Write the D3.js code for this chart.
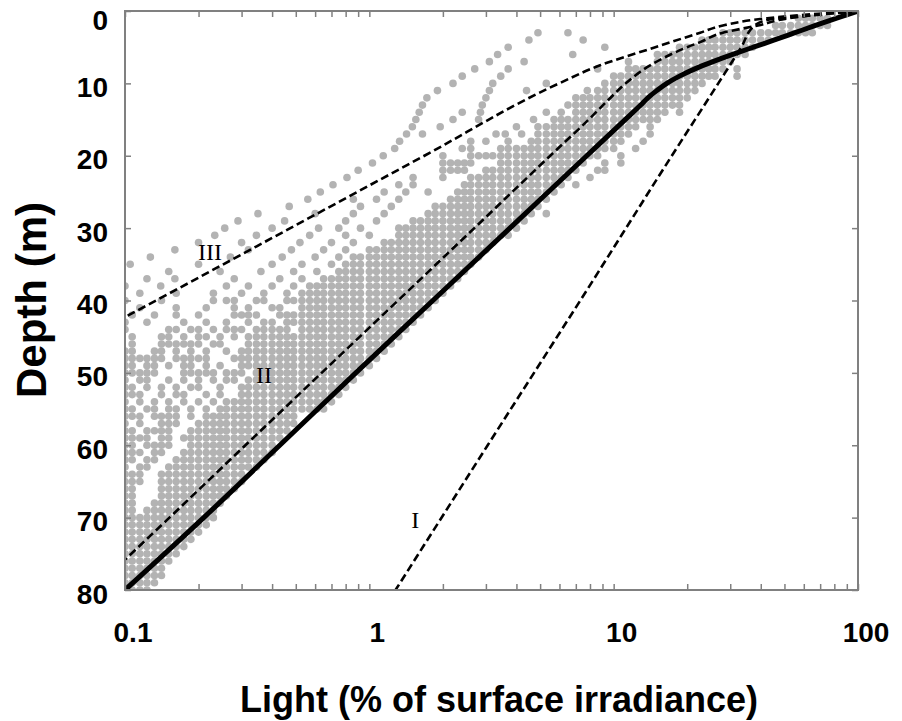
<!DOCTYPE html>
<html lang="en">
<head>
<meta charset="UTF-8">
<title>Light vs depth</title>
<script src="https://d3js.org/d3.v7.min.js"></script>
<style>
  body { margin: 0; background: #fff; }
  .frame { fill: none; stroke: #808080; stroke-width: 2px; }
  .tick line { stroke: #808080; stroke-width: 1.5px; }
  .dot { fill: #b3b3b3; }
  .model { fill: none; stroke: #000; stroke-width: 2.6px; stroke-dasharray: 8 4; }
  .fit { fill: none; stroke: #000; stroke-width: 5px; }
  .ticklab { font-family: "Liberation Sans", Arial, sans-serif; font-weight: bold; font-size: 28px; fill: #000; }
  .title { font-family: "Liberation Sans", Arial, sans-serif; font-weight: bold; font-size: 36px; fill: #000; }
  .roman { font-family: "Liberation Serif", "Times New Roman", serif; font-size: 24px; fill: #000; }
</style>
</head>
<body>
<div id="chart"></div>
<script>
// axis ticks
const xTicks = [0.1, 1, 10, 100];
const xTickLabels = ["0.1", "1", "10", "100"];
const yTicks = [0, 10, 20, 30, 40, 50, 60, 70, 80];

// mean light profile (solid)
const fitDepth = [0, 1, 2, 3, 4, 5, 6, 7, 8, 9, 10, 11, 12, 13, 15, 20, 30, 40, 50, 60, 70, 80];
const fitLight = [100, 81.8, 67, 55.2, 45.5, 37.3, 30.7, 25.5, 21.5, 18.6, 16.5, 15.0, 13.8, 12.9, 11.15, 7.76, 3.76, 1.82, 0.88, 0.43, 0.21, 0.1];

// dashed profiles I, II, III
const depthI = [0, 0.6, 1.2, 2, 5, 10, 20, 40, 60, 80];
const lightI = [100, 65, 43, 37.8, 33.3, 26.8, 17.3, 7.3, 3.05, 1.28];
const depthII = [0, 0.5, 1, 2, 3, 4.3, 5, 7.5, 10, 12.3, 15, 20, 30, 40, 50, 60, 70, 75.8];
const lightII = [100, 68, 52, 39, 28, 22.6, 20, 14.1, 11.2, 9.5, 7.9, 5.5, 2.69, 1.31, 0.638, 0.311, 0.152, 0.1];
const depthIII = [0, 0.5, 1, 2, 3, 5, 7.5, 10, 20, 30, 40, 42.3];
const lightIII = [100, 62, 42.5, 28, 22.6, 14.8, 8.8, 5.98, 1.68, 0.475, 0.134, 0.1];

const profileNames = ["I", "II", "III"];
const nameLight = [1.54, 0.371, 0.223];
const nameDepth = [71.4, 51.4, 34.4];

// measured light (% surface), one row per metre of depth
const dotRows = [
  [1, [57, 61, 65, 70, 75]],
  [2, [46, 49, 53, 57, 61, 65, 70, 75]],
  [3, [4.9, 6.5, 28, 30, 32, 34.5, 37, 40, 43, 46, 49, 53, 57, 61, 65]],
  [4, [4.5, 7.5, 23, 24.5, 26, 28, 30, 32, 34.5, 37, 40, 43]],
  [5, [3.7, 9.2, 18.6, 20, 21.5, 23, 24.5, 26, 28, 30, 32, 34.5, 37]],
  [6, [3.35, 6.8, 15.1, 16.2, 17.4, 18.6, 20, 21.5, 23, 24.5, 26, 28, 30, 32, 34.5]],
  [7, [3.1, 4.3, 11.5, 15.1, 16.2, 17.4, 18.6, 20, 21.5, 23, 24.5, 26, 28, 30]],
  [8, [2.7, 3.7, 8.6, 11.5, 12.3, 13.2, 14.1, 15.1, 16.2, 17.4, 18.6, 20, 21.5, 23, 24.5, 26, 28, 32]],
  [9, [2.4, 3.45, 10, 10.7, 11.5, 12.3, 13.2, 14.1, 15.1, 16.2, 17.4, 18.6, 20, 21.5, 23, 24.5, 26, 32]],
  [10, [2.2, 3.2, 5.3, 9.2, 10, 10.7, 11.5, 12.3, 13.2, 14.1, 15.1, 16.2, 17.4, 18.6, 20, 21.5, 23]],
  [11, [1.9, 3.1, 4.4, 7.8, 8.6, 9.2, 10, 10.7, 11.5, 12.3, 13.2, 14.1, 15.1, 16.2, 17.4, 18.6, 20, 21.5]],
  [12, [1.72, 3.0, 7, 7.5, 8, 8.6, 9.2, 10, 10.7, 11.5, 12.3, 13.2, 14.1, 15.1, 16.2, 17.4, 18.6, 20]],
  [13, [1.65, 2.9, 6.5, 7, 7.5, 8, 8.6, 9.2, 10, 10.7, 11.5, 12.3, 13.2, 14.1, 15.1, 16.2, 17.4, 18.6]],
  [14, [1.6, 2.4, 2.85, 5.3, 6.1, 7, 7.5, 8, 8.6, 9.2, 10, 10.7, 11.5, 12.3, 13.2, 14.1, 15.1, 16.2, 18.6]],
  [15, [1.55, 2.2, 2.8, 4.7, 5.7, 6.1, 6.5, 7, 7.5, 8, 8.6, 9.2, 10, 10.7, 11.5, 12.3, 13.2, 14.1, 15.1]],
  [16, [1.5, 1.95, 4.0, 4.9, 5.3, 5.7, 6.1, 6.5, 7, 7.5, 8, 8.6, 9.2, 10, 10.7, 11.5, 12.3, 14.1]],
  [17, [1.42, 1.65, 3.3, 3.6, 4.2, 4.9, 5.3, 5.7, 6.1, 6.5, 7, 7.5, 8, 8.6, 9.2, 10, 10.7, 11.5, 14.1]],
  [18, [1.33, 2.6, 3.0, 3.7, 4.6, 4.9, 5.3, 5.7, 6.1, 6.5, 7, 7.5, 8, 8.6, 9.2, 10, 10.7, 13.2]],
  [19, [1.27, 2.4, 2.6, 3.45, 3.7, 4, 4.3, 4.6, 4.9, 5.3, 5.7, 6.1, 6.5, 7, 7.5, 8, 8.6, 9.2, 10, 12.3]],
  [20, [1.14, 2.0, 2.6, 2.8, 3, 3.2, 3.45, 3.7, 4, 4.3, 4.6, 4.9, 5.3, 5.7, 6.1, 6.5, 7, 7.5, 8, 8.6, 10.7]],
  [21, [1.03, 2, 2.15, 2.3, 2.45, 2.6, 3.45, 3.7, 4, 4.3, 4.6, 4.9, 5.3, 5.7, 6.1, 6.5, 7, 7.5, 9.2, 10.7]],
  [22, [0.9, 2, 2.15, 2.3, 2.45, 3, 3.2, 3.45, 3.7, 4, 4.3, 4.6, 4.9, 5.3, 5.7, 6.1, 6.5, 7, 8.6, 9.2]],
  [23, [0.81, 1.51, 2.0, 2.6, 2.8, 3, 3.2, 3.45, 3.7, 4, 4.3, 4.6, 4.9, 5.3, 5.7, 6.1, 6.5, 8.0]],
  [24, [0.71, 1.32, 1.51, 2.45, 2.6, 2.8, 3, 3.2, 3.45, 3.7, 4, 4.3, 4.6, 4.9, 5.3, 5.7, 6.1, 7.0]],
  [25, [0.63, 1.15, 1.41, 1.74, 2.3, 2.45, 2.6, 2.8, 3, 3.2, 3.45, 3.7, 4, 4.3, 4.6, 4.9, 5.3, 5.7]],
  [26, [0.56, 0.86, 1.07, 1.32, 2.15, 2.3, 2.45, 2.6, 2.8, 3, 3.2, 3.45, 3.7, 4, 4.3, 4.6, 4.9, 5.3]],
  [27, [0.47, 0.92, 1.23, 1.86, 2, 2.15, 2.3, 2.45, 2.6, 2.8, 3, 3.2, 3.45, 3.7, 4, 4.3, 4.6, 4.9]],
  [28, [0.35, 0.6, 0.86, 1.15, 1.74, 1.86, 2, 2.15, 2.3, 2.45, 2.6, 2.8, 3, 3.2, 3.45, 3.7, 4, 4.3, 4.6, 5.3]],
  [29, [0.29, 0.45, 0.8, 1.07, 1.51, 1.62, 1.74, 1.86, 2, 2.15, 2.3, 2.45, 2.6, 2.8, 3, 3.2, 3.45, 3.7, 4, 4.3]],
  [30, [0.256, 0.4, 0.62, 0.75, 0.92, 1.32, 1.41, 1.51, 1.62, 1.74, 1.86, 2, 2.15, 2.3, 2.45, 2.6, 2.8, 3, 3.2, 3.45, 3.7, 4]],
  [31, [0.233, 0.345, 0.57, 0.8, 1.0, 1.32, 1.41, 1.51, 1.62, 1.74, 1.86, 2, 2.15, 2.3, 2.45, 2.6, 2.8, 3, 3.2, 3.45, 3.7]],
  [32, [0.2, 0.3, 0.52, 0.7, 0.86, 1.15, 1.23, 1.32, 1.41, 1.51, 1.62, 1.74, 1.86, 2, 2.15, 2.3, 2.45, 2.6, 2.8, 3, 3.2]],
  [33, [0.16, 0.32, 0.48, 0.65, 0.8, 1, 1.07, 1.15, 1.23, 1.32, 1.41, 1.51, 1.62, 1.74, 1.86, 2, 2.15, 2.3, 2.45, 2.6, 2.8, 3]],
  [34, [0.127, 0.27, 0.44, 0.6, 0.75, 0.86, 0.92, 1, 1.07, 1.15, 1.23, 1.32, 1.41, 1.51, 1.62, 1.74, 1.86, 2, 2.15, 2.3, 2.45, 2.6, 2.8]],
  [35, [0.105, 0.2, 0.4, 0.53, 0.7, 0.8, 0.86, 0.92, 1, 1.07, 1.15, 1.23, 1.32, 1.41, 1.51, 1.62, 1.74, 1.86, 2, 2.15, 2.3, 2.45, 2.6]],
  [36, [0.151, 0.245, 0.36, 0.49, 0.61, 0.75, 0.8, 0.86, 0.92, 1, 1.07, 1.15, 1.23, 1.32, 1.41, 1.51, 1.62, 1.74, 1.86, 2, 2.15, 2.3, 2.45]],
  [37, [0.123, 0.16, 0.28, 0.43, 0.53, 0.65, 0.7, 0.75, 0.8, 0.86, 0.92, 1, 1.07, 1.15, 1.23, 1.32, 1.41, 1.51, 1.62, 1.74, 1.86, 2, 2.15, 2.3]],
  [38, [0.1, 0.14, 0.26, 0.32, 0.4, 0.49, 0.57, 0.61, 0.65, 0.7, 0.75, 0.8, 0.86, 0.92, 1, 1.07, 1.15, 1.23, 1.32, 1.41, 1.51, 1.62, 1.74, 1.86, 2, 2.15]],
  [39, [0.115, 0.162, 0.23, 0.3, 0.37, 0.46, 0.53, 0.57, 0.61, 0.65, 0.7, 0.75, 0.8, 0.86, 0.92, 1, 1.07, 1.15, 1.23, 1.32, 1.41, 1.51, 1.62, 1.74, 1.86, 2]],
  [40, [0.1, 0.141, 0.23, 0.26, 0.28, 0.345, 0.37, 0.46, 0.49, 0.53, 0.57, 0.61, 0.65, 0.7, 0.75, 0.8, 0.86, 0.92, 1, 1.07, 1.15, 1.23, 1.32, 1.41, 1.51, 1.62, 1.74, 1.86]],
  [41, [0.115, 0.162, 0.215, 0.28, 0.32, 0.4, 0.43, 0.53, 0.57, 0.61, 0.65, 0.7, 0.75, 0.8, 0.86, 0.92, 1, 1.07, 1.15, 1.23, 1.32, 1.41, 1.51, 1.62, 1.74]],
  [42, [0.107, 0.132, 0.162, 0.2, 0.28, 0.3, 0.32, 0.345, 0.43, 0.46, 0.49, 0.53, 0.57, 0.61, 0.65, 0.7, 0.75, 0.8, 0.86, 0.92, 1, 1.07, 1.15, 1.23, 1.32, 1.41, 1.51, 1.62]],
  [43, [0.1, 0.123, 0.174, 0.215, 0.26, 0.32, 0.37, 0.4, 0.46, 0.49, 0.53, 0.57, 0.61, 0.65, 0.7, 0.75, 0.8, 0.86, 0.92, 1, 1.07, 1.15, 1.23, 1.32, 1.41, 1.51]],
  [44, [0.1, 0.151, 0.162, 0.186, 0.2, 0.23, 0.26, 0.28, 0.3, 0.345, 0.37, 0.4, 0.43, 0.46, 0.53, 0.57, 0.61, 0.65, 0.7, 0.75, 0.8, 0.86, 0.92, 1, 1.07, 1.15, 1.23, 1.32, 1.41]],
  [45, [0.107, 0.141, 0.151, 0.174, 0.2, 0.215, 0.245, 0.28, 0.32, 0.345, 0.37, 0.4, 0.43, 0.46, 0.49, 0.53, 0.57, 0.61, 0.65, 0.7, 0.75, 0.8, 0.86, 0.92, 1, 1.07, 1.15, 1.23, 1.32]],
  [46, [0.107, 0.141, 0.151, 0.162, 0.174, 0.186, 0.2, 0.23, 0.245, 0.32, 0.345, 0.37, 0.4, 0.43, 0.46, 0.49, 0.53, 0.57, 0.61, 0.65, 0.7, 0.75, 0.8, 0.86, 0.92, 1, 1.07, 1.15, 1.23]],
  [47, [0.1, 0.107, 0.132, 0.141, 0.162, 0.186, 0.215, 0.26, 0.3, 0.32, 0.345, 0.37, 0.4, 0.43, 0.46, 0.49, 0.53, 0.57, 0.61, 0.65, 0.7, 0.75, 0.8, 0.86, 0.92, 1, 1.07, 1.15]],
  [48, [0.1, 0.107, 0.115, 0.123, 0.132, 0.141, 0.162, 0.174, 0.186, 0.2, 0.215, 0.28, 0.3, 0.32, 0.345, 0.37, 0.4, 0.43, 0.46, 0.49, 0.53, 0.57, 0.61, 0.65, 0.7, 0.75, 0.8, 0.86, 0.92, 1, 1.07]],
  [49, [0.1, 0.107, 0.123, 0.132, 0.151, 0.174, 0.186, 0.215, 0.245, 0.3, 0.32, 0.345, 0.37, 0.4, 0.43, 0.46, 0.49, 0.53, 0.57, 0.61, 0.65, 0.7, 0.75, 0.8, 0.86, 0.92, 1]],
  [50, [0.1, 0.107, 0.115, 0.123, 0.132, 0.174, 0.186, 0.2, 0.215, 0.23, 0.26, 0.28, 0.3, 0.345, 0.37, 0.4, 0.43, 0.46, 0.49, 0.53, 0.57, 0.61, 0.65, 0.7, 0.75, 0.8, 0.86, 0.92]],
  [51, [0.1, 0.115, 0.123, 0.151, 0.174, 0.2, 0.23, 0.26, 0.28, 0.32, 0.345, 0.37, 0.4, 0.43, 0.46, 0.49, 0.53, 0.57, 0.61, 0.65, 0.7, 0.75, 0.8, 0.86]],
  [52, [0.1, 0.107, 0.123, 0.141, 0.162, 0.186, 0.2, 0.245, 0.3, 0.32, 0.345, 0.37, 0.4, 0.43, 0.46, 0.49, 0.53, 0.57, 0.61, 0.65, 0.7, 0.75, 0.8]],
  [53, [0.1, 0.107, 0.115, 0.141, 0.162, 0.174, 0.215, 0.245, 0.3, 0.32, 0.345, 0.37, 0.4, 0.43, 0.46, 0.49, 0.53, 0.57, 0.61, 0.65, 0.7, 0.75]],
  [54, [0.1, 0.115, 0.132, 0.151, 0.174, 0.2, 0.23, 0.26, 0.28, 0.3, 0.32, 0.345, 0.37, 0.4, 0.43, 0.46, 0.49, 0.53, 0.57, 0.61, 0.65, 0.7]],
  [55, [0.1, 0.107, 0.123, 0.132, 0.151, 0.162, 0.186, 0.215, 0.245, 0.26, 0.28, 0.3, 0.32, 0.345, 0.37, 0.4, 0.43, 0.46, 0.49, 0.53, 0.57, 0.61, 0.65]],
  [56, [0.1, 0.107, 0.115, 0.132, 0.141, 0.151, 0.162, 0.186, 0.215, 0.23, 0.245, 0.26, 0.28, 0.3, 0.32, 0.345, 0.37, 0.4, 0.43, 0.46, 0.49]],
  [57, [0.1, 0.115, 0.141, 0.151, 0.162, 0.2, 0.215, 0.23, 0.245, 0.26, 0.28, 0.3, 0.32, 0.345, 0.37, 0.4, 0.43, 0.46, 0.49]],
  [58, [0.1, 0.107, 0.123, 0.132, 0.141, 0.151, 0.186, 0.2, 0.215, 0.23, 0.245, 0.26, 0.28, 0.3, 0.32, 0.345, 0.37, 0.4, 0.43, 0.46]],
  [59, [0.1, 0.107, 0.115, 0.123, 0.141, 0.151, 0.174, 0.186, 0.2, 0.215, 0.23, 0.245, 0.26, 0.28, 0.3, 0.32, 0.345, 0.37, 0.4, 0.43]],
  [60, [0.1, 0.107, 0.123, 0.132, 0.141, 0.151, 0.186, 0.2, 0.215, 0.23, 0.245, 0.26, 0.28, 0.3, 0.32, 0.345, 0.37, 0.4]],
  [61, [0.1, 0.107, 0.115, 0.132, 0.141, 0.174, 0.186, 0.2, 0.215, 0.23, 0.245, 0.26, 0.28, 0.3, 0.32, 0.345, 0.37, 0.4]],
  [62, [0.1, 0.107, 0.123, 0.132, 0.162, 0.174, 0.186, 0.2, 0.215, 0.23, 0.245, 0.26, 0.28, 0.3, 0.32, 0.345, 0.37]],
  [63, [0.1, 0.115, 0.123, 0.151, 0.162, 0.174, 0.186, 0.2, 0.215, 0.23, 0.245, 0.26, 0.28, 0.3, 0.32, 0.345]],
  [64, [0.1, 0.107, 0.115, 0.141, 0.151, 0.162, 0.174, 0.186, 0.2, 0.215, 0.23, 0.245, 0.26, 0.28, 0.3]],
  [65, [0.1, 0.107, 0.115, 0.141, 0.151, 0.162, 0.174, 0.186, 0.2, 0.215, 0.23, 0.245, 0.26, 0.28, 0.3]],
  [66, [0.1, 0.107, 0.141, 0.151, 0.162, 0.174, 0.186, 0.2, 0.215, 0.23, 0.245, 0.26, 0.28]],
  [67, [0.1, 0.107, 0.141, 0.151, 0.162, 0.174, 0.186, 0.2, 0.215, 0.23, 0.245, 0.26]],
  [68, [0.1, 0.107, 0.132, 0.141, 0.151, 0.162, 0.174, 0.186, 0.2, 0.215, 0.23, 0.245]],
  [69, [0.1, 0.107, 0.123, 0.132, 0.141, 0.151, 0.162, 0.174, 0.186, 0.2, 0.215, 0.23]],
  [70, [0.1, 0.107, 0.115, 0.123, 0.132, 0.141, 0.151, 0.162, 0.174, 0.186, 0.2, 0.215, 0.23]],
  [71, [0.1, 0.107, 0.115, 0.123, 0.132, 0.141, 0.151, 0.162, 0.174, 0.186, 0.2, 0.215]],
  [72, [0.1, 0.107, 0.115, 0.123, 0.132, 0.141, 0.151, 0.162, 0.174, 0.186, 0.2]],
  [73, [0.1, 0.107, 0.115, 0.123, 0.132, 0.141, 0.151, 0.162, 0.174, 0.186]],
  [74, [0.1, 0.107, 0.115, 0.123, 0.132, 0.141, 0.151, 0.162, 0.174]],
  [75, [0.1, 0.107, 0.115, 0.123, 0.132, 0.141, 0.151, 0.162]],
  [76, [0.1, 0.107, 0.115, 0.123, 0.132, 0.141, 0.151]],
  [77, [0.1, 0.107, 0.115, 0.123, 0.132, 0.141]],
  [78, [0.1, 0.107, 0.115, 0.123, 0.132, 0.141]],
  [79, [0.1, 0.107, 0.115, 0.123, 0.132]],
  [80, [0.1, 0.107, 0.115, 0.123]]
];

const width = 902, height = 721;
const plot = { left: 125, right: 858, top: 11, bottom: 590 };

const svg = d3.select("#chart").append("svg")
  .attr("width", width)
  .attr("height", height);

const x = d3.scaleLog().domain([0.1, 100]).range([plot.left, plot.right]);
const y = d3.scaleLinear().domain([0, 80]).range([plot.top, plot.bottom]);

svg.append("clipPath").attr("id", "plotclip")
  .append("rect")
  .attr("x", plot.left).attr("y", plot.top)
  .attr("width", plot.right - plot.left).attr("height", plot.bottom - plot.top);

// scatter
const dots = dotRows.flatMap(([d, vals]) => vals.map(v => ({ depth: d, light: v })));
svg.append("g").attr("clip-path", "url(#plotclip)")
  .selectAll("circle")
  .data(dots)
  .join("circle")
  .attr("class", "dot")
  .attr("cx", d => x(d.light))
  .attr("cy", d => y(d.depth))
  .attr("r", 3.8);

// profiles
const line = d3.line()
  .x(d => x(d[1]))
  .y(d => y(d[0]))
  .curve(d3.curveMonotoneY);

const lines = svg.append("g").attr("clip-path", "url(#plotclip)");
[[depthI, lightI], [depthII, lightII], [depthIII, lightIII]].forEach(([ds, ls]) => {
  lines.append("path")
    .datum(d3.zip(ds, ls))
    .attr("class", "model")
    .attr("d", line);
});
lines.append("path")
  .datum(d3.zip(fitDepth, fitLight))
  .attr("class", "fit")
  .attr("d", line);

profileNames.forEach((n, i) => {
  svg.append("text").attr("class", "roman")
    .attr("x", x(nameLight[i])).attr("y", y(nameDepth[i]))
    .attr("text-anchor", "middle")
    .text(n);
});

// axes: ticks point inward on all four sides
const minor = x.ticks();
svg.append("g").attr("transform", `translate(0,${plot.bottom})`)
  .call(d3.axisBottom(x).tickValues(minor).tickSize(-6).tickFormat(""))
  .call(g => g.select(".domain").remove());
svg.append("g").attr("transform", `translate(0,${plot.top})`)
  .call(d3.axisTop(x).tickValues(minor).tickSize(-6).tickFormat(""))
  .call(g => g.select(".domain").remove());
svg.append("g").attr("transform", `translate(${plot.left},0)`)
  .call(d3.axisLeft(y).tickValues(yTicks).tickSize(-6).tickFormat(""))
  .call(g => g.select(".domain").remove());
svg.append("g").attr("transform", `translate(${plot.right},0)`)
  .call(d3.axisRight(y).tickValues(yTicks).tickSize(-6).tickFormat(""))
  .call(g => g.select(".domain").remove());

svg.append("rect").attr("class", "frame")
  .attr("x", plot.left).attr("y", plot.top)
  .attr("width", plot.right - plot.left).attr("height", plot.bottom - plot.top);

// tick labels
svg.selectAll(".ylab").data(yTicks).join("text")
  .attr("class", "ticklab ylab")
  .attr("x", 108)
  .attr("y", d => y(d) + (d === 0 ? 9 : 4))
  .attr("text-anchor", "end")
  .attr("dominant-baseline", "central")
  .text(d => d);

svg.selectAll(".xlab").data(xTicks).join("text")
  .attr("class", "ticklab xlab")
  .attr("x", d => x(d) + 8)
  .attr("y", 642)
  .attr("text-anchor", "middle")
  .text((d, i) => xTickLabels[i]);

// axis titles
svg.append("text").attr("class", "title")
  .attr("x", 499).attr("y", 712)
  .attr("text-anchor", "middle")
  .text("Light (% of surface irradiance)");

svg.append("text").attr("class", "title")
  .attr("transform", "translate(46,300) rotate(-90)")
  .attr("text-anchor", "middle")
  .style("font-size", "42px")
  .text("Depth (m)");
</script>
</body>
</html>
